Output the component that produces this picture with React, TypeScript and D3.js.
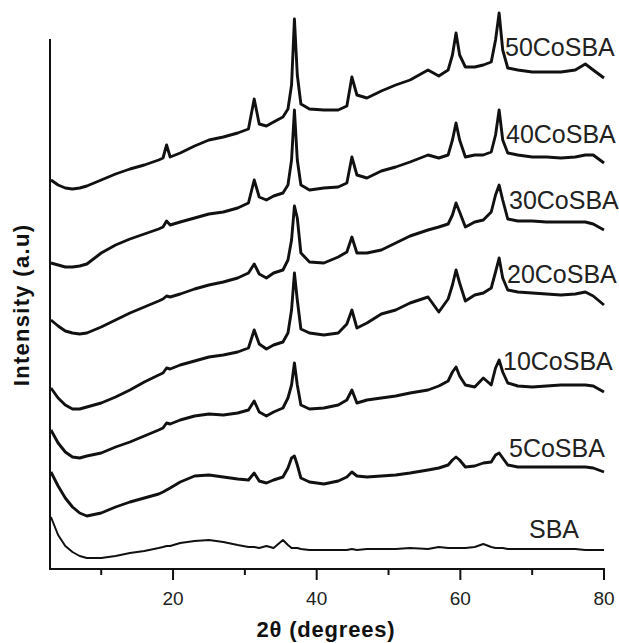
import React from 'react';
import * as d3 from 'd3';

// 2θ sampling positions (degrees)
const twoTheta = [3,4,5,6,7,8,10,12,14,16,18,18.6,19.1,19.6,21,23,25,27,29,30.5,31.3,32,33,34,35.3,36,36.5,36.9,37.3,37.8,39,41,43,44.2,44.9,45.6,47,49,51,53,55.5,57,58.3,58.9,59.4,59.9,60.7,62,63.2,64.3,64.9,65.4,65.9,66.6,68,70,72,74,76,77.4,78.5,80];

// Intensities (a.u., stacked offsets included)
const sba = [52,34,23,17,13,11,11,13,16,18,21,22,23,23,26,28,29,27,24,22,22,21,23,21,29,24,21,21,21,20,19,19,19,19,20,19,20,20,20,21,20,22,21,21,21,21,21,22,25,22,21,21,21,20,20,20,20,20,20,19,19,19];
const co5 = [97,83,71,62,56,53,56,62,67,71,75,77,79,81,87,93,94,92,90,89,96,88,86,89,92,101,111,113,104,91,87,85,88,92,97,93,92,93,94,96,99,101,104,109,112,109,102,103,106,107,114,116,111,104,102,102,102,102,102,102,101,97];
const co10 = [139,126,117,112,111,113,116,122,127,133,139,141,146,145,149,153,155,154,156,159,168,157,153,157,161,171,184,206,184,164,160,161,164,169,179,166,169,171,173,176,179,183,188,197,202,193,184,182,191,184,201,209,197,186,183,182,183,184,184,184,183,177];
const co20 = [181,171,164,160,160,162,166,172,179,187,194,196,201,200,204,208,212,214,217,221,239,225,220,224,227,236,259,296,269,240,236,234,236,245,259,241,246,255,259,266,272,257,270,284,299,286,268,274,276,281,297,311,291,279,277,276,275,274,275,277,273,264];
const co30 = [249,243,238,236,235,236,242,249,256,262,268,270,273,272,275,280,284,287,291,296,305,295,291,296,299,309,329,363,351,316,307,306,312,317,332,316,316,319,326,333,339,342,345,354,366,357,342,347,349,357,374,384,369,350,348,348,347,347,347,347,345,339];
const co40 = [306,304,302,302,303,305,316,324,330,335,340,342,348,344,347,351,355,357,361,366,389,372,369,373,376,384,409,459,409,384,379,381,382,386,412,394,391,398,402,407,414,411,414,429,446,429,412,414,414,417,434,459,429,416,414,412,412,411,412,414,414,406];
const co50 = [389,384,381,380,381,383,389,395,400,404,409,411,424,412,416,423,429,432,436,440,470,445,443,447,452,460,484,550,494,465,460,459,459,463,492,474,471,478,484,489,499,493,499,514,536,514,502,502,504,507,529,556,519,501,499,497,497,497,499,505,499,491];

const seriesNames = ['SBA', '5CoSBA', '10CoSBA', '20CoSBA', '30CoSBA', '40CoSBA', '50CoSBA'];
const seriesValues = [sba, co5, co10, co20, co30, co40, co50];

const majorTicks = [20, 40, 60, 80];
const minorTicks = [10, 30, 50, 70];

// label layout (pixel anchor: left x, baseline y)
const labelLayout = [
  [529, 538], [509, 457], [503, 370], [507, 283], [509, 209], [506, 143], [505, 56],
];

const FONT = "'Liberation Sans', Arial, Helvetica, sans-serif";

export default function App() {
  const W = 619, H = 643;
  const x = d3.scaleLinear().domain([2.87, 80]).range([50, 604]);
  const y = d3.scaleLinear().domain([0, 530]).range([569, 39]);
  const line = d3.line<number>()
    .x((_, i) => x(twoTheta[i]))
    .y((d) => y(d));

  return (
    <svg width={W} height={H} style={{ position: 'absolute', left: 0, top: 0, background: '#fff' }}>
      <rect width={W} height={H} fill="#fff" />
      {seriesValues.map((vals, si) => (
        <path key={si} d={line(vals) || ''} fill="none" stroke="#111"
          strokeWidth={si === 0 ? 2 : 2.9} strokeLinejoin="round" />
      ))}
      {/* axes */}
      <line x1={50} x2={50} y1={39} y2={570} stroke="#111" strokeWidth={2} />
      <line x1={49} x2={605} y1={569} y2={569} stroke="#111" strokeWidth={2} />
      {majorTicks.map((t) => (
        <g key={'M' + t}>
          <line x1={x(t)} x2={x(t)} y1={569} y2={580} stroke="#111" strokeWidth={2} />
          <text x={x(t)} y={605} textAnchor="middle" fontFamily={FONT} fontSize={19} fill="#222">{t}</text>
        </g>
      ))}
      {minorTicks.map((t) => (
        <line key={'m' + t} x1={x(t)} x2={x(t)} y1={569} y2={575} stroke="#111" strokeWidth={2} />
      ))}
      {seriesNames.map((n, i) => (
        <text key={n} x={labelLayout[i][0]} y={labelLayout[i][1]} fontFamily={FONT} fontSize={25} fill="#222">{n}</text>
      ))}
      <text x={326} y={637} textAnchor="middle" fontFamily={FONT} fontSize={22} fontWeight="bold" letterSpacing={0.8} fill="#111">2θ (degrees)</text>
      <text transform="translate(29,305) rotate(-90)" textAnchor="middle" fontFamily={FONT} fontSize={22} fontWeight="bold" letterSpacing={1.3} fill="#111">Intensity (a.u)</text>
    </svg>
  );
}
